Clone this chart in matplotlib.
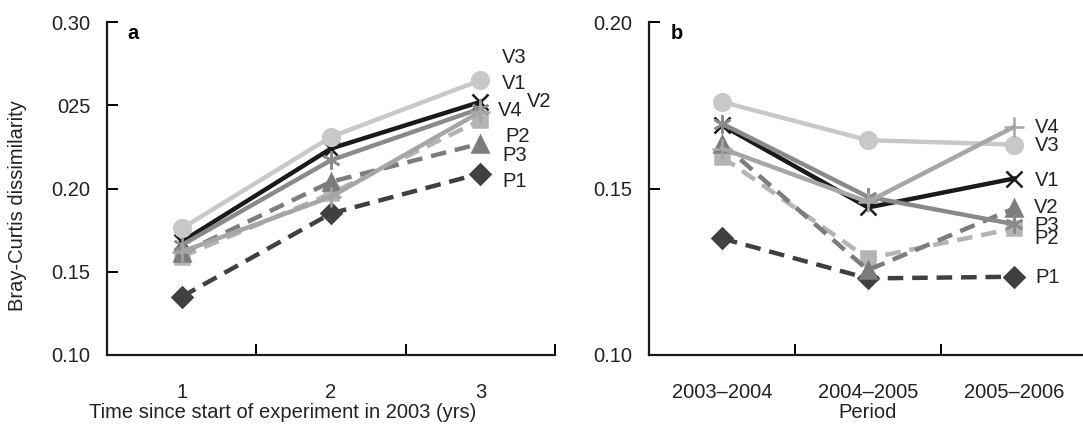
import numpy as np
import matplotlib
matplotlib.use("Agg")
import matplotlib.pyplot as plt

plt.rcParams['font.family'] = ['Liberation Sans', 'DejaVu Sans']

# data
series = ["P1", "P2", "P3", "V1", "V2", "V3", "V4"]
years = ["1", "2", "3"]
periods = ["2003\u20132004", "2004\u20132005", "2005\u20132006"]

a_P1 = [0.135, 0.185, 0.209]
a_P2 = [0.159, 0.197, 0.241]
a_P3 = [0.161, 0.204, 0.227]
a_V1 = [0.168, 0.224, 0.252]
a_V2 = [0.166, 0.217, 0.248]
a_V3 = [0.176, 0.231, 0.265]
a_V4 = [0.162, 0.195, 0.246]

b_P1 = [0.135, 0.123, 0.1235]
b_P2 = [0.1595, 0.129, 0.138]
b_P3 = [0.1635, 0.1255, 0.144]
b_V1 = [0.169, 0.1443, 0.153]
b_V2 = [0.1695, 0.1475, 0.1393]
b_V3 = [0.176, 0.1645, 0.1632]
b_V4 = [0.162, 0.146, 0.1685]

a_yticks = [0.10, 0.15, 0.20, 0.25, 0.30]
a_yticklabels = ["0.10", "0.15", "0.20", "025", "0.30"]
b_yticks = [0.10, 0.15, 0.20]
b_yticklabels = ["0.10", "0.15", "0.20"]

data_a = dict(P1=a_P1, P2=a_P2, P3=a_P3, V1=a_V1, V2=a_V2, V3=a_V3, V4=a_V4)
data_b = dict(P1=b_P1, P2=b_P2, P3=b_P3, V1=b_V1, V2=b_V2, V3=b_V3, V4=b_V4)

# styles
style = {
    "P1": dict(color="#404040", marker="D", ls=(0, (3.5, 2)), ms=10),
    "P2": dict(color="#b4b4b4", marker="s", ls=(0, (3.5, 2)), ms=10),
    "P3": dict(color="#7c7c7c", marker="^", ls=(0, (3.5, 2)), ms=11),
    "V1": dict(color="#1a1a1a", marker="x", ls="-", ms=12),
    "V2": dict(color="#8a8a8a", marker=(6, 2, 0), ls="-", ms=13),
    "V3": dict(color="#c8c8c8", marker="o", ls="-", ms=12),
    "V4": dict(color="#a6a6a6", marker="+", ls="-", ms=14),
}

FS = 14.5
TXT = "#222222"

fig = plt.figure(figsize=(10.83, 4.24), dpi=100)
ax1 = fig.add_axes([107/1083, 69/424, 448/1083, 333/424])
ax2 = fig.add_axes([649/1083, 69/424, 438/1083, 333/424])


def draw(ax, data, cats, yticks, ylabels, ylim):
    x = np.arange(len(cats))
    for s in series:
        st = style[s]
        ax.plot(x, data[s], color=st["color"], ls=st["ls"], lw=3.2,
                marker=st["marker"], ms=st["ms"], mew=1.8,
                mec=st["color"], mfc=st["color"], clip_on=False)
    ax.set_xlim(-0.5, len(cats) - 0.5)
    ax.set_ylim(*ylim)
    ax.spines["top"].set_visible(False)
    ax.spines["right"].set_visible(False)
    for sp in ("left", "bottom"):
        ax.spines[sp].set_linewidth(1.6)
        ax.spines[sp].set_color("#1a1a1a")
    ax.set_yticks(yticks)
    ax.set_yticklabels(ylabels, fontsize=FS, color=TXT)
    ax.tick_params(axis="y", direction="in", length=8, width=1.4, pad=12)
    # category axis: tick marks between categories (and at the end), labels at centres
    ax.set_xticks(x + 0.5)
    ax.set_xticklabels([])
    ax.set_xticks(x, minor=True)
    ax.set_xticklabels(cats, minor=True, fontsize=FS, color=TXT)
    ax.tick_params(axis="x", which="major", direction="in", length=8, width=1.4)
    ax.tick_params(axis="x", which="minor", length=0, pad=20)


draw(ax1, data_a, years, a_yticks, a_yticklabels, (0.10, 0.30))
draw(ax2, data_b, periods, b_yticks, b_yticklabels, (0.10, 0.20))

ax1.set_ylabel("Bray-Curtis dissimilarity", fontsize=FS, color=TXT)
ax1.yaxis.set_label_coords(-0.178, 0.45)
ax1.set_xlabel("Time since start of experiment in 2003 (yrs)", fontsize=FS, color=TXT)
ax1.xaxis.set_label_coords(0.393, -0.145)
ax2.set_xlabel("Period", fontsize=FS, color=TXT)
ax2.xaxis.set_label_coords(0.5, -0.145)

ax1.text(0.045, 0.964, "a", transform=ax1.transAxes, fontsize=FS, fontweight="bold",
         ha="left", va="center")
ax2.text(0.05, 0.964, "b", transform=ax2.transAxes, fontsize=FS, fontweight="bold",
         ha="left", va="center")

# series labels at line ends
lab_a = {"V3": (2.145, 0.2784), "V1": (2.145, 0.2628), "V2": (2.312, 0.2520),
         "V4": (2.118, 0.2471), "P2": (2.165, 0.2315), "P3": (2.145, 0.2201),
         "P1": (2.145, 0.2045)}
lab_b = {"V4": (2.14, 0.1684), "V3": (2.14, 0.1630), "V1": (2.145, 0.1525),
         "V2": (2.135, 0.1444), "P3": (2.14, 0.1390), "P2": (2.14, 0.1351),
         "P1": (2.145, 0.1234)}
for s, (tx, ty) in lab_a.items():
    ax1.text(tx, ty, s, fontsize=FS, ha="left", va="center", color=TXT)
for s, (tx, ty) in lab_b.items():
    ax2.text(tx, ty, s, fontsize=FS, ha="left", va="center", color=TXT)

fig.savefig("out.png", dpi=100)
